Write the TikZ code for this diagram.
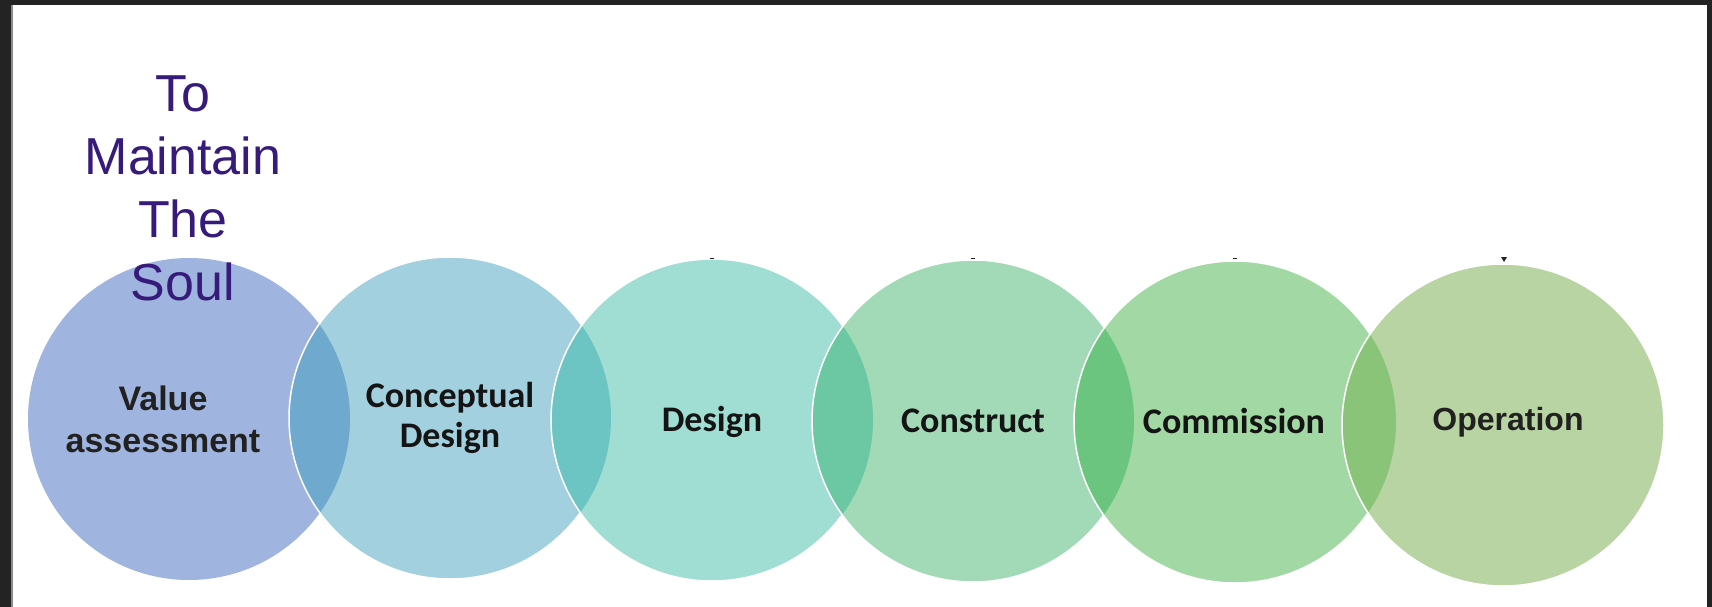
\documentclass[tikz,border=0pt]{standalone}
\usepackage{fontspec}
\setmainfont{Liberation Sans}
\newfontfamily\calibri{Carlito}

\definecolor{soulpurple}{HTML}{371B7A}
\definecolor{bar}{HTML}{232323}
\definecolor{edge}{HTML}{8C8C8C}
\definecolor{value}{HTML}{9FB4DE}
\definecolor{concept}{HTML}{A3D0DE}
\definecolor{design}{HTML}{A0DDD3}
\definecolor{construct}{HTML}{A2D9B6}
\definecolor{commission}{HTML}{A2D8A4}
\definecolor{operation}{HTML}{B8D4A2}
\definecolor{conceptlens}{HTML}{6FA9CE}
\definecolor{designlens}{HTML}{6CC5C2}
\definecolor{constructlens}{HTML}{6CC8A2}
\definecolor{commissionlens}{HTML}{6CC57E}
\definecolor{operationlens}{HTML}{8AC479}

\begin{document}
\begin{tikzpicture}[x = 1pt, y = -1pt,
	stage/.style = {circle, minimum size = 322pt, inner sep = 0pt},
	arial/.style = {text = black!87, align = center},
	calibri/.style = {text = black!92, align = center, font = \calibri\bfseries\fontsize{36}{40}\selectfont}]

\useasboundingbox (0, 0) rectangle (1712, 607);

	% Frame

	\fill [white] (0, 0) rectangle (1712, 607);
	\fill [bar] (0, 0) rectangle (1712, 5);
	\fill [bar] (0, 0) rectangle (11, 607);
	\fill [edge] (11, 5) rectangle (13, 607);
	\fill [bar] (1707, 0) rectangle (1712, 607);

	% Circles

	\node [stage, fill = value] (value) at (189, 419) {};

	\foreach \name/\prev/\x/\y in {concept/value/450/418, design/concept/712/420, construct/design/973/421, commission/construct/1235/422, operation/commission/1503/425}
	{
		\node [stage, fill = \name] (\name) at (\x, \y) {};
		\begin{scope}
			\clip (\prev.center) circle (161);
			\fill [\name lens] (\name.center) circle (161);
		\end{scope}
		\draw [white, line width = 1.5pt] (\name.center) circle (161);
	}

	% Marks

	\foreach \x in {712, 973, 1235}
		\fill [bar] (\x - 2, 257.5) rectangle (\x + 2, 259);
	\fill [bar] (1501, 257) -- (1507, 257) -- (1504, 262) -- cycle;

	% Labels

	\node [text = soulpurple, align = center, font = \fontsize{52}{63}\selectfont] (soul) at (183, 188) {To\\Maintain\\The\\Soul};

	\node [arial, font = \bfseries\fontsize{34}{42}\selectfont] (valuetext) at (163, 419) {Value\\assessment};
	\node [calibri] (concepttext) at (450, 418) {Conceptual\\Design};
	\node [calibri, anchor = base] (designtext) at (712, 431) {Design};
	\node [calibri, anchor = base] (constructtext) at (973, 432) {Construct};
	\node [calibri, anchor = base] (commissiontext) at (1234, 433) {Commission};
	\node [arial, font = \bfseries\fontsize{32}{40}\selectfont, anchor = base] (operationtext) at (1508, 430) {Operation};

\end{tikzpicture}
\end{document}
